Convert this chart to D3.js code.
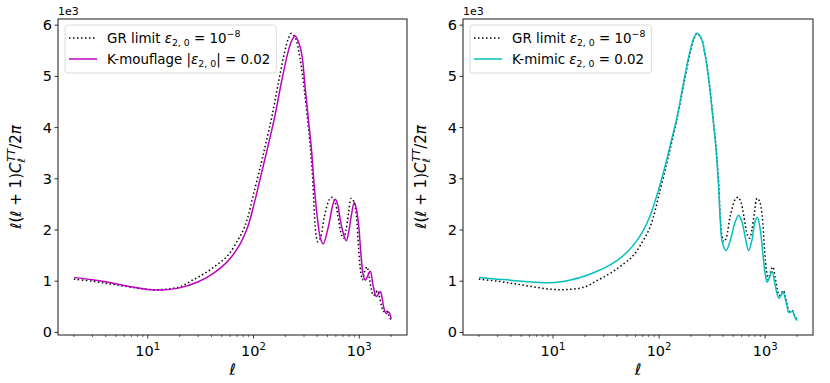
<!DOCTYPE html>
<html>
<head>
<meta charset="utf-8">
<script src="https://cdn.jsdelivr.net/npm/d3@7/dist/d3.min.js"></script>
<style>
body { margin: 0; background: #fff; }
svg { display: block; font-family: "DejaVu Sans", sans-serif; }
</style>
</head>
<body>
<svg id="chart" width="830" height="383"></svg>
<script>
// GR limit (eps = 1e-8), shared by both panels
var grEll = [2, 3, 4, 5, 7, 10, 14, 20, 27, 35, 45, 57, 71, 80, 88, 100, 118, 131, 150, 169, 196, 212, 228, 250, 270, 285, 300, 313, 345, 364, 377, 391, 406, 430, 469, 523, 555, 590, 628, 684, 714, 750, 792, 840, 890, 937, 987, 1031, 1070, 1120, 1183, 1240, 1300, 1358, 1420, 1483, 1550, 1620, 1688, 1750, 1803, 1900, 2000];
var grVal = [1.04, 1.0, 0.96, 0.93, 0.88, 0.84, 0.84, 0.89, 1.03, 1.16, 1.32, 1.50, 1.80, 2.0, 2.24, 2.70, 3.30, 3.70, 4.24, 4.80, 5.46, 5.72, 5.84, 5.74, 5.45, 5.15, 4.80, 4.45, 3.60, 2.93, 2.28, 1.89, 1.77, 1.85, 2.28, 2.60, 2.64, 2.55, 2.28, 1.89, 1.84, 2.0, 2.34, 2.62, 2.55, 2.28, 1.62, 1.18, 1.03, 1.18, 1.28, 1.08, 0.85, 0.72, 0.76, 0.82, 0.70, 0.52, 0.41, 0.42, 0.43, 0.33, 0.23];

// K-mouflage |eps| = 0.02
var moufEll = [2, 3, 4, 5, 7, 10, 14, 20, 30, 40, 50, 57, 71, 88, 101, 118, 140, 160, 182, 211, 230, 247, 265, 285, 307, 330, 352, 377, 406, 430, 456, 512, 563, 593, 625, 651, 700, 753, 800, 840, 897, 940, 987, 1045, 1092, 1140, 1200, 1270, 1349, 1449, 1520, 1581, 1650, 1710, 1803, 1900, 2000];
var moufVal = [1.07, 1.03, 0.99, 0.95, 0.89, 0.84, 0.83, 0.87, 0.99, 1.13, 1.28, 1.39, 1.65, 2.06, 2.50, 3.08, 3.72, 4.25, 4.85, 5.46, 5.70, 5.79, 5.68, 5.45, 4.80, 4.16, 3.60, 2.80, 2.15, 1.83, 1.73, 2.08, 2.50, 2.60, 2.50, 2.28, 1.96, 1.79, 2.0, 2.28, 2.54, 2.40, 2.08, 1.44, 1.11, 1.02, 1.10, 1.20, 0.92, 0.70, 0.75, 0.80, 0.65, 0.47, 0.37, 0.40, 0.26];

// K-mimic eps = 0.02
var mimicEll = [2, 3, 4, 5, 7, 9, 12, 15, 20, 25, 30, 40, 50, 57, 70, 82, 100, 115, 129, 150, 169, 196, 212, 228, 250, 270, 285, 300, 313, 345, 364, 377, 395, 429, 469, 520, 561, 600, 650, 698, 750, 800, 844, 900, 950, 1000, 1043, 1100, 1162, 1250, 1343, 1410, 1478, 1580, 1671, 1740, 1811, 1900, 2000];
var mimicVal = [1.07, 1.04, 1.02, 1.0, 0.98, 0.97, 0.99, 1.03, 1.10, 1.18, 1.25, 1.40, 1.57, 1.70, 1.97, 2.27, 2.82, 3.28, 3.70, 4.27, 4.85, 5.50, 5.74, 5.84, 5.74, 5.45, 5.15, 4.78, 4.42, 3.55, 2.85, 2.20, 1.75, 1.60, 1.80, 2.15, 2.29, 2.18, 1.85, 1.60, 1.80, 2.15, 2.25, 2.00, 1.55, 1.15, 0.98, 1.08, 1.19, 0.90, 0.67, 0.72, 0.78, 0.58, 0.39, 0.40, 0.41, 0.31, 0.23];

var yTicks = [0, 1, 2, 3, 4, 5, 6];
var xTicks = [10, 100, 1000];
var xTickExp = ["1", "2", "3"];

var svg = d3.select("#chart");
var TICK_FONT = 14.5;

function zip(ell, val) {
    return ell.map(function (l, i) { return {l: l, v: val[i]}; });
}

// matplotlib style 5% padding
function padExtent(ext, log) {
    var a = log ? Math.log10(ext[0]) : ext[0],
        b = log ? Math.log10(ext[1]) : ext[1],
        m = (b - a) * 0.05;
    return log ? [Math.pow(10, a - m), Math.pow(10, b + m)] : [a - m, b + m];
}

// text made of plain / italic / sub / sup pieces
function richText(sel, parts, size) {
    var shift = 0;
    parts.forEach(function (p) {
        var target = p.sub ? size * 0.28 : (p.sup ? -size * 0.42 : 0);
        var t = sel.append("tspan")
            .attr("dy", target - shift)
            .attr("font-size", (p.sub || p.sup) ? size * 0.7 : size)
            .text(p.t);
        if (p.it) t.attr("font-style", "italic");
        if (p.dx) t.attr("dx", p.dx);
        shift = target;
    });
}

function drawPanel(box, series, legend) {
    var all = [];
    series.forEach(function (s) { all = all.concat(s.data); });
    var x = d3.scaleLog()
        .domain(padExtent(d3.extent(all, function (d) { return d.l; }), true))
        .range([box.x0, box.x1]);
    var y = d3.scaleLinear()
        .domain(padExtent(d3.extent(all, function (d) { return d.v; }), false))
        .range([box.y1, box.y0]);

    var g = svg.append("g");

    g.append("clipPath").attr("id", box.id)
        .append("rect")
        .attr("x", box.x0).attr("y", box.y0)
        .attr("width", box.x1 - box.x0).attr("height", box.y1 - box.y0);

    var line = d3.line()
        .x(function (d) { return x(d.l); })
        .y(function (d) { return y(d.v); })
        .curve(d3.curveCatmullRom.alpha(0.5));

    series.forEach(function (s) {
        g.append("path")
            .datum(s.data)
            .attr("clip-path", "url(#" + box.id + ")")
            .attr("fill", "none")
            .attr("stroke", s.color)
            .attr("stroke-width", 1.5)
            .attr("stroke-dasharray", s.dash || null)
            .attr("d", line);
    });

    // frame
    g.append("rect")
        .attr("x", box.x0).attr("y", box.y0)
        .attr("width", box.x1 - box.x0).attr("height", box.y1 - box.y0)
        .attr("fill", "none").attr("stroke", "#000").attr("stroke-width", 0.9);

    // y axis
    yTicks.forEach(function (t) {
        var yy = y(t);
        g.append("line").attr("x1", box.x0).attr("x2", box.x0 - 3.5)
            .attr("y1", yy).attr("y2", yy).attr("stroke", "#000").attr("stroke-width", 0.8);
        g.append("text").attr("x", box.x0 - 6).attr("y", yy)
            .attr("text-anchor", "end").attr("dominant-baseline", "central")
            .attr("font-size", TICK_FONT).text(t);
    });
    g.append("text").attr("x", box.x0).attr("y", box.y0 - 4)
        .attr("font-size", 11).text("1e3");

    // x axis, major + minor log ticks
    var dom = x.domain();
    for (var k = 0; k < 4; k++) {
        for (var m = 2; m < 10; m++) {
            var v = m * Math.pow(10, k);
            if (v < dom[0] || v > dom[1]) continue;
            g.append("line").attr("x1", x(v)).attr("x2", x(v))
                .attr("y1", box.y1).attr("y2", box.y1 + 2)
                .attr("stroke", "#000").attr("stroke-width", 0.6);
        }
    }
    xTicks.forEach(function (t, i) {
        var xx = x(t);
        g.append("line").attr("x1", xx).attr("x2", xx)
            .attr("y1", box.y1).attr("y2", box.y1 + 3.5)
            .attr("stroke", "#000").attr("stroke-width", 0.8);
        var txt = g.append("text").attr("x", xx).attr("y", box.y1 + 21)
            .attr("text-anchor", "middle");
        richText(txt, [{t: "10"}, {t: xTickExp[i], sup: true}], TICK_FONT);
    });

    // axis labels
    g.append("text")
        .attr("x", (box.x0 + box.x1) / 2).attr("y", box.y1 + 40)
        .attr("text-anchor", "middle").attr("font-size", 16)
        .attr("font-style", "italic").text("ℓ");

    var yl = g.append("text")
        .attr("transform", "translate(" + (box.x0 - 37) + "," + ((box.y0 + box.y1) / 2) + ") rotate(-90)")
        .attr("text-anchor", "middle");
    richText(yl, [
        {t: "ℓ", it: true}, {t: "("}, {t: "ℓ", it: true}, {t: " + 1)"},
        {t: "C", it: true}, {t: "ℓ", it: true, sub: true},
        {t: "TT", it: true, sup: true, dx: -3.5}, {t: "/2"}, {t: "π", it: true}
    ], 15);

    // legend
    var lx = box.x0 + 7, ly = box.y0 + 6;
    var lg = g.append("g");
    var frame = lg.append("rect")
        .attr("x", lx).attr("y", ly).attr("height", 48).attr("rx", 3)
        .attr("fill", "#fff").attr("fill-opacity", 0.8)
        .attr("stroke", "#d0d0d0").attr("stroke-width", 0.8);
    var maxW = 0;
    legend.forEach(function (row, i) {
        var ry = ly + 13 + i * 21;
        lg.append("line")
            .attr("x1", lx + 4).attr("x2", lx + 32)
            .attr("y1", ry).attr("y2", ry)
            .attr("stroke", row.color).attr("stroke-width", 1.5)
            .attr("stroke-dasharray", row.dash || null);
        var t = lg.append("text")
            .attr("x", lx + 42).attr("y", ry + 4.5);
        richText(t, row.parts, 13.4);
        maxW = Math.max(maxW, t.node().getComputedTextLength());
    });
    frame.attr("width", 42 + maxW + 6);
}

var DOT = "1.5,2.5";
var grParts = [{t: "GR limit "}, {t: "ε", it: true}, {t: "2, 0", sub: true}, {t: " = 10"}, {t: "−8", sup: true}];

drawPanel(
    {id: "clipA", x0: 58, x1: 407, y0: 19, y1: 335},
    [
        {data: zip(grEll, grVal), color: "#000", dash: DOT},
        {data: zip(moufEll, moufVal), color: "#bf00bf"}
    ],
    [
        {color: "#000", dash: DOT, parts: grParts},
        {color: "#bf00bf", parts: [{t: "K-mouflage |"}, {t: "ε", it: true}, {t: "2, 0", sub: true}, {t: "| = 0.02"}]}
    ]
);

drawPanel(
    {id: "clipB", x0: 463, x1: 813, y0: 19, y1: 335},
    [
        {data: zip(grEll, grVal), color: "#000", dash: DOT},
        {data: zip(mimicEll, mimicVal), color: "#00bfbf"}
    ],
    [
        {color: "#000", dash: DOT, parts: grParts},
        {color: "#00bfbf", parts: [{t: "K-mimic "}, {t: "ε", it: true}, {t: "2, 0", sub: true}, {t: " = 0.02"}]}
    ]
);
</script>
</body>
</html>
